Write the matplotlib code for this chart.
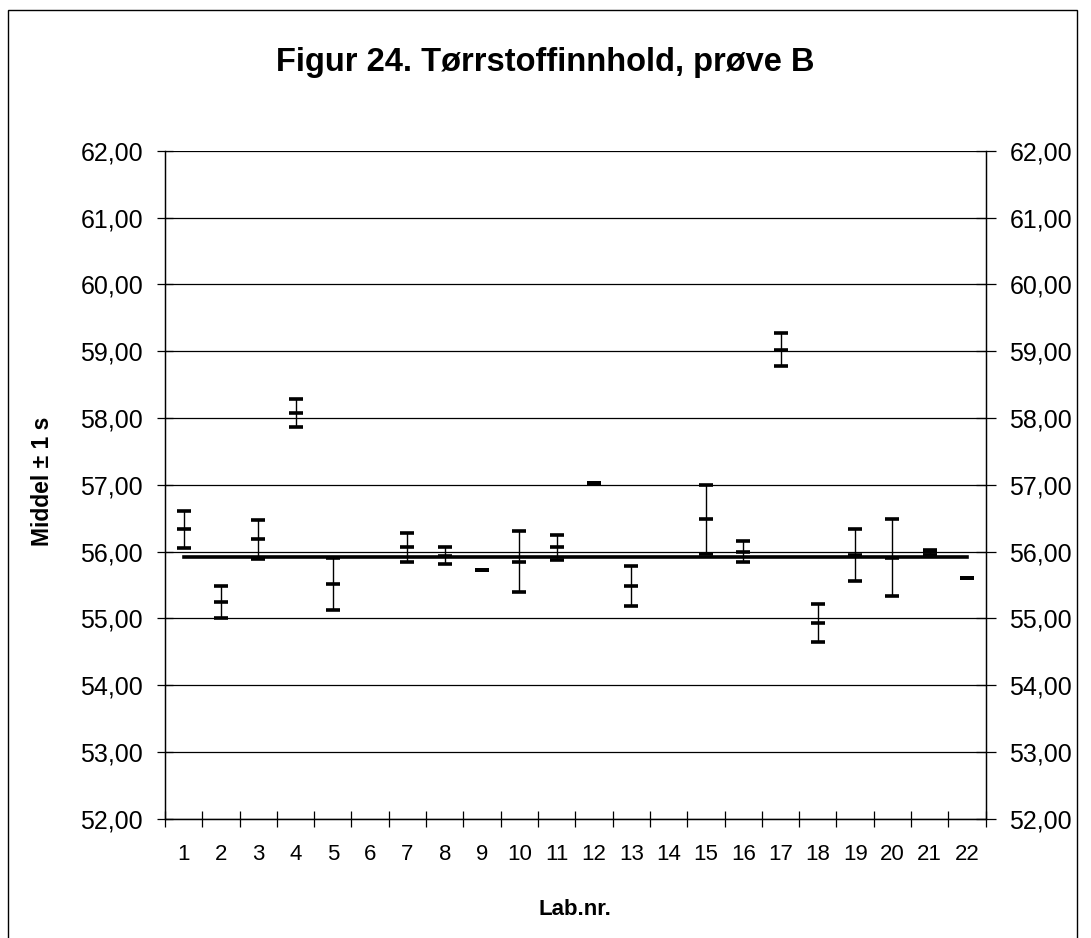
import numpy as np
import matplotlib
matplotlib.use("Agg")
import matplotlib.pyplot as plt
from matplotlib.patches import Rectangle

plt.rcParams['font.family'] = ['Liberation Sans', 'DejaVu Sans']

# Data
labs = np.arange(1, 23)
means = [56.33, 55.25, 56.18, 58.07, 55.52, np.nan, 56.06, 55.94, 55.73, 55.85, 56.06,
         57.02, 55.49, np.nan, 56.48, 56.00, 59.02, 54.93, 55.95, 55.91, 55.99, 55.61]
sds = [0.28, 0.24, 0.29, 0.21, 0.39, np.nan, 0.21, 0.12, 0.00, 0.45, 0.19,
       0.00, 0.30, np.nan, 0.51, 0.15, 0.25, 0.28, 0.39, 0.57, 0.04, 0.00]
assigned = 55.92
yticks = np.arange(52, 63, 1)

fig = plt.figure(figsize=(10.91, 9.38), dpi=100)
ax = fig.add_axes([0.1512, 0.1272, 0.7523, 0.7121])

# frame around the whole chart
fig.patches.append(Rectangle((8 / 1091, -0.05), 1069 / 1091, 1.05 - 10 / 938,
                             transform=fig.transFigure, fill=False, edgecolor='black',
                             linewidth=1.0))

for v in yticks:
    ax.axhline(v, color='black', linewidth=0.9, zorder=1)

ax.plot([labs[0], labs[-1]], [assigned, assigned], color='black', linewidth=2.6, zorder=2)

ax.errorbar(labs, means, yerr=sds, fmt='none', ecolor='black', elinewidth=1.0,
            capsize=4.8, capthick=2.6, zorder=3)
ax.plot(labs, means, linestyle='none', marker='_', markersize=9.6, mew=2.6,
        color='black', zorder=4)

ax.set_xlim(0.5, 22.5)
ax.set_ylim(52, 62)
ax.set_xticks(np.arange(0.5, 23, 1))
ax.set_xticklabels([])
ax.set_xticks(labs, minor=True)
ax.set_xticklabels([str(i) for i in labs], minor=True, fontsize=16)
ax.tick_params(axis='x', which='major', direction='inout', length=11.5, width=0.9)
ax.tick_params(axis='x', which='minor', length=0, pad=18)

ax.set_yticks(yticks)
ax.set_yticklabels([f"{v:.2f}".replace('.', ',') for v in yticks], fontsize=18)
ax.tick_params(axis='y', direction='inout', length=11.5, width=0.9, pad=10)

ax2 = ax.twinx()
ax2.set_ylim(52, 62)
ax2.set_yticks(yticks)
ax2.set_yticklabels([f"{v:.2f}".replace('.', ',') for v in yticks], fontsize=18)
ax2.tick_params(axis='y', direction='inout', length=14, width=0.9, pad=10)

for a in (ax, ax2):
    a.spines['top'].set_visible(False)
    for s in ('left', 'right', 'bottom'):
        a.spines[s].set_linewidth(0.9)

ax.set_xlabel("Lab.nr.", fontsize=16, fontweight='bold')
ax.xaxis.set_label_coords(0.5, -0.12)
ax.set_ylabel("Middel \u00b1 1 s", fontsize=16.5, fontweight='bold')
ax.yaxis.set_label_coords(-0.135, 0.505)

fig.text(0.5, 1 - 62 / 938, "Figur 24. T\u00f8rrstoffinnhold, pr\u00f8ve B", ha='center',
         va='center', fontsize=23.5, fontweight='bold')

fig.savefig("out.png", dpi=100)
